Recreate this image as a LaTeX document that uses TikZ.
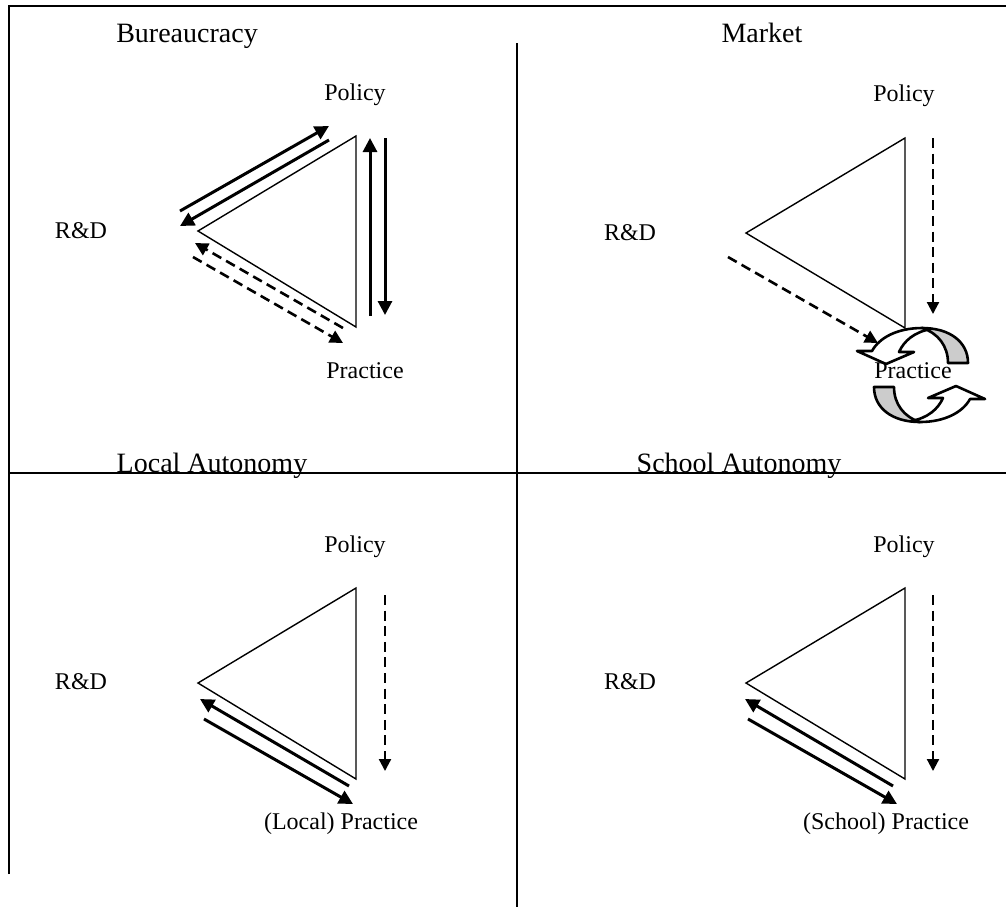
\documentclass[tikz,border=0pt]{standalone}
\usepackage{fontspec}
\setmainfont{Liberation Serif}
\usetikzlibrary{arrows.meta}
\begin{document}
\begin{tikzpicture}[x=0.5pt,y=-0.5pt,
  frameline/.style={line width=1pt, line join=miter},
  tri/.style={line width=0.7pt, line join=miter},
  thickarr/.style={line width=1.5pt, -{Triangle[length=7pt,width=7pt]}},
  dasharr/.style={line width=1.3pt, dash pattern=on 5pt off 2.8pt, -{Triangle[length=6.5pt,width=6.5pt]}},
  vdasharr/.style={line width=1.1pt, dash pattern=on 5pt off 2.8pt, -{Triangle[length=6pt,width=6pt]}},
  recy/.style={line width=1.3pt, line join=round},
  title/.style={font=\fontsize{14}{16}\selectfont, anchor=base, inner sep=0pt},
  lbl/.style={font=\fontsize{12}{14}\selectfont, anchor=base, inner sep=0pt}]
\useasboundingbox (0,0) rectangle (1006,907);

% frame
\coordinate (fTL) at (9,6);
\coordinate (fTR) at (1006,6);
\coordinate (fBL) at (9,874);
\coordinate (mT) at (517,43);
\coordinate (mB) at (517,907);
\coordinate (hL) at (9,473);
\coordinate (hR) at (1006,473);
\draw[frameline] (fBL) -- (fTL) -- (fTR);
\draw[frameline] (mT) -- (mB);
\draw[frameline] (hL) -- (hR);

% ---------- Bureaucracy ----------
\node[title] (t1) at (187,42) {Bureaucracy};
\node[lbl] (p1) at (355,100) {Policy};
\node[lbl] (r1) at (81,238) {R\&D};
\node[lbl] (q1) at (365,378) {Practice};
\coordinate (A1) at (198,231);
\coordinate (B1) at (356,136);
\coordinate (C1) at (356,327);
\draw[tri] (A1) -- (B1) -- (C1) -- cycle;
\coordinate (a1s) at (180,211); \coordinate (a1e) at (329,126);
\coordinate (b1s) at (329,140); \coordinate (b1e) at (180,226);
\coordinate (c1s) at (370,316); \coordinate (c1e) at (370,138);
\coordinate (d1s) at (385,138); \coordinate (d1e) at (385,315);
\coordinate (e1s) at (343,328); \coordinate (e1e) at (195,243);
\coordinate (g1s) at (193,257); \coordinate (g1e) at (343,343);
\draw[thickarr] (a1s) -- (a1e);
\draw[thickarr] (b1s) -- (b1e);
\draw[thickarr] (c1s) -- (c1e);
\draw[thickarr] (d1s) -- (d1e);
\draw[dasharr] (e1s) -- (e1e);
\draw[dasharr] (g1s) -- (g1e);

% ---------- Market ----------
\node[title] (t2) at (762,42) {Market};
\node[lbl] (p2) at (904,101) {Policy};
\node[lbl] (r2) at (630,240) {R\&D};
\coordinate (A2) at (746,233);
\coordinate (B2) at (905,138);
\coordinate (C2) at (905,328);
\draw[tri] (A2) -- (B2) -- (C2) -- cycle;
% recycling arrows
\foreach \ang in {0,180}{
  \begin{scope}[rotate around={\ang:(921,375)}]
    \draw[recy, fill=gray!40] (948,363) -- (968,363)
      .. controls (968,342) and (950,328) .. (922,328)
      .. controls (938,333) and (948,346) .. (948,363) -- cycle;
    \draw[recy, fill=white] (922,328)
      .. controls (897,328) and (879,338) .. (872,351)
      -- (857,351) -- (886,364) -- (914,352) -- (899,352)
      .. controls (904,341) and (914,332) .. (931,329) -- cycle;
  \end{scope}
}
\coordinate (a2s) at (933,138); \coordinate (a2e) at (933,314);
\coordinate (b2s) at (728,257); \coordinate (b2e) at (878,343);
\draw[vdasharr] (a2s) -- (a2e);
\draw[dasharr] (b2s) -- (b2e);
\node[lbl] (q2) at (913,378) {Practice};

% ---------- Local Autonomy ----------
\node[title] (t3) at (212,472) {Local Autonomy};
\node[lbl] (p3) at (355,552) {Policy};
\node[lbl] (r3) at (81,689) {R\&D};
\node[lbl] (q3) at (341,829) {(Local) Practice};
\coordinate (A3) at (198,683);
\coordinate (B3) at (356,588);
\coordinate (C3) at (356,779);
\draw[tri] (A3) -- (B3) -- (C3) -- cycle;
\coordinate (a3s) at (385,595); \coordinate (a3e) at (385,771);
\coordinate (b3s) at (349,786); \coordinate (b3e) at (200,699);
\coordinate (c3s) at (204,719); \coordinate (c3e) at (353,804);
\draw[vdasharr] (a3s) -- (a3e);
\draw[thickarr] (b3s) -- (b3e);
\draw[thickarr] (c3s) -- (c3e);

% ---------- School Autonomy ----------
\node[title] (t4) at (739,472) {School Autonomy};
\node[lbl] (p4) at (904,552) {Policy};
\node[lbl] (r4) at (630,689) {R\&D};
\node[lbl] (q4) at (886,829) {(School) Practice};
\coordinate (A4) at (746,683);
\coordinate (B4) at (905,588);
\coordinate (C4) at (905,779);
\draw[tri] (A4) -- (B4) -- (C4) -- cycle;
\coordinate (a4s) at (933,595); \coordinate (a4e) at (933,771);
\coordinate (b4s) at (893,786); \coordinate (b4e) at (745,699);
\coordinate (c4s) at (748,719); \coordinate (c4e) at (897,804);
\draw[vdasharr] (a4s) -- (a4e);
\draw[thickarr] (b4s) -- (b4e);
\draw[thickarr] (c4s) -- (c4e);
\end{tikzpicture}
\end{document}
